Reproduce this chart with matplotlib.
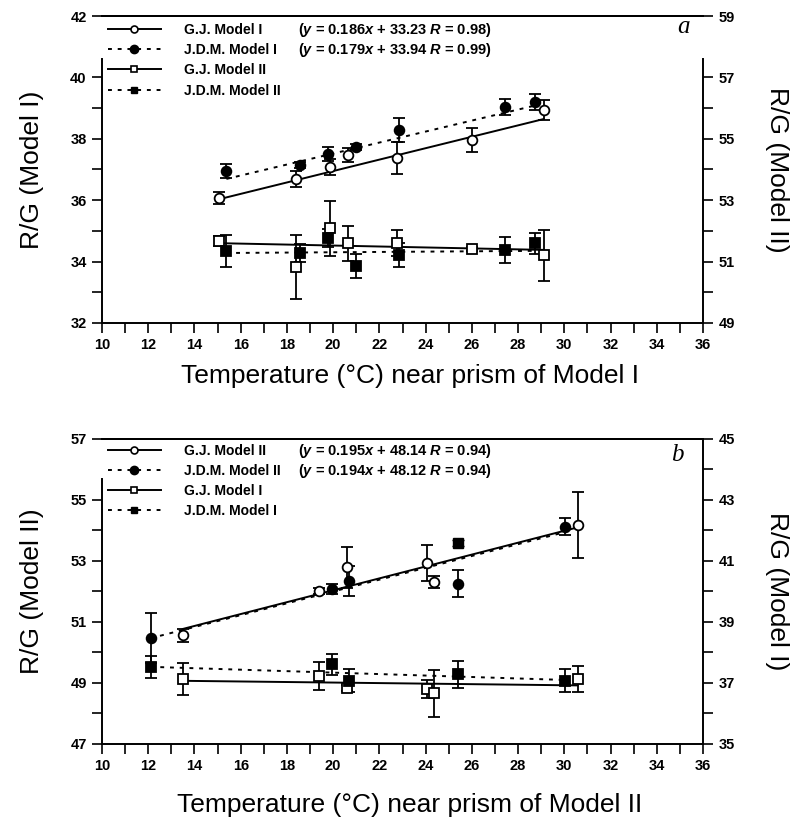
import numpy as np
import matplotlib
matplotlib.use('Agg')
import matplotlib.pyplot as plt
from matplotlib import font_manager
from matplotlib.lines import Line2D

# ---- data ----
# panel a: temperature near prism of Model I
a_gj_x = [15.06, 18.37, 19.88, 20.66, 22.76, 26.02, 29.1]
a_gj_m1 = [36.07, 36.69, 37.08, 37.47, 37.37, 37.96, 38.94]
a_gj_m1_err = [0.2, 0.27, 0.25, 0.23, 0.53, 0.4, 0.33]
a_gj_m2 = [51.67, 50.82, 52.09, 51.6, 51.6, 51.41, 51.21]
a_gj_m2_err = [0.15, 1.03, 0.9, 0.57, 0.43, 0.08, 0.83]

a_jdm_x = [15.38, 18.56, 19.78, 20.99, 22.85, 27.42, 28.71]
a_jdm_m1 = [36.95, 37.15, 37.5, 37.73, 38.28, 39.04, 39.2]
a_jdm_m1_err = [0.23, 0.1, 0.23, 0.1, 0.4, 0.27, 0.25]
a_jdm_m2 = [51.35, 51.28, 51.77, 50.86, 51.21, 51.38, 51.6]
a_jdm_m2_err = [0.52, 0.3, 0.3, 0.4, 0.38, 0.42, 0.34]

# fits (slope, intercept)
a_fit_gj_m1 = (0.186, 33.23)
a_fit_jdm_m1 = (0.179, 33.94)
a_fit_gj_m2 = (-0.0156, 51.835)
a_fit_jdm_m2 = (0.0052, 51.2)

# panel b: temperature near prism of Model II
b_gj_x = [13.49, 19.39, 20.6, 24.05, 24.36, 30.57]
b_gj_m2 = [50.56, 52.03, 52.79, 52.94, 52.32, 54.18]
b_gj_m2_err = [0.22, 0.1, 0.66, 0.6, 0.2, 1.07]
b_gj_m1 = [37.13, 37.24, 36.83, 36.8, 36.66, 37.12]
b_gj_m1_err = [0.51, 0.46, 0.1, 0.3, 0.78, 0.43]

b_jdm_x = [12.1, 19.96, 20.7, 25.38, 30.03]
b_jdm_m2 = [50.47, 52.07, 52.34, 52.26, 54.13]
b_jdm_m2_err = [0.82, 0.16, 0.49, 0.45, 0.29]
b_jdm_m1 = [37.53, 37.61, 37.07, 37.29, 37.07]
b_jdm_m1_err = [0.37, 0.34, 0.38, 0.44, 0.38]
b_jdm_m1_extra_x = [25.38]
b_jdm_m1_extra = [41.58]

b_fit_gj_m2 = (0.195, 48.14)
b_fit_jdm_m2 = (0.194, 48.12)
b_fit_gj_m1 = (-0.0088, 37.19)
b_fit_jdm_m1 = (-0.024, 37.82)

a_labels = ['G.J. Model I', 'J.D.M. Model I', 'G.J. Model II', 'J.D.M. Model II']
a_eqs = [r'($y$ = 0.186$x$ + 33.23 $R$ = 0.98)', r'($y$ = 0.179$x$ + 33.94 $R$ = 0.99)']
b_labels = ['G.J. Model II', 'J.D.M. Model II', 'G.J. Model I', 'J.D.M. Model I']
b_eqs = [r'($y$ = 0.195$x$ + 48.14 $R$ = 0.94)', r'($y$ = 0.194$x$ + 48.12 $R$ = 0.94)']

x_ticks = list(range(10, 37, 2))

# ---- fonts ----
names = {f.name for f in font_manager.fontManager.ttflist}
narrow = 'Liberation Sans Narrow' if 'Liberation Sans Narrow' in names else 'Liberation Sans'
plt.rcParams['font.family'] = 'Liberation Sans'
plt.rcParams['mathtext.fontset'] = 'custom'
plt.rcParams['mathtext.rm'] = narrow + ':bold'
plt.rcParams['mathtext.it'] = narrow + ':italic:bold'

DOT = (0, (2, 3))
LW = 1.4
LEG_SIZE = 10


def series(ax, x, y, err, fit, marker, filled, ls):
    x = np.array(x)
    xs = np.array([x.min(), x.max()])
    ax.plot(xs, fit[0] * xs + fit[1], color='black', lw=LW, ls=ls, zorder=2)
    ax.errorbar(x, y, yerr=err, fmt=marker, ms=7 if marker == 'o' else 6.5,
                mfc='black' if filled else 'white', mec='black', mew=1.3,
                ecolor='black', elinewidth=1.3, capsize=4, capthick=1.3, zorder=3)


def style(ax, ax2, ylim, ylim2, lbound, rbound):
    ax.set_xlim(10, 36)
    ax.set_ylim(*ylim)
    ax2.set_ylim(*ylim2)
    ax.set_xticks(x_ticks)
    ax.set_xticklabels([str(t) for t in x_ticks], fontweight='bold', fontsize=10.5)
    ax.set_xticks(range(11, 36, 2), minor=True)
    yt = list(range(ylim[0], ylim[1] + 1, 2))
    ax.set_yticks(yt)
    ax.set_yticklabels([str(t) for t in yt], fontweight='bold', fontsize=10.5)
    ax.set_yticks([v for v in range(ylim[0] + 1, ylim[1], 2) if v <= lbound[1]], minor=True)
    yt2 = list(range(ylim2[0], ylim2[1] + 1, 2))
    ax2.set_yticks(yt2)
    ax2.set_yticklabels([str(t) for t in yt2], fontweight='bold', fontsize=10.5)
    ax2.set_yticks([v for v in range(ylim2[0] + 1, ylim2[1], 2) if v <= rbound[1]], minor=True)
    for a in (ax, ax2):
        a.tick_params(which='both', direction='out', length=7, width=1.2, pad=4)
        for s in a.spines.values():
            s.set_linewidth(1.4)
    ax.spines['right'].set_visible(False)
    ax2.spines['left'].set_visible(False)
    ax2.spines['bottom'].set_visible(False)
    ax.spines['left'].set_bounds(*lbound)
    ax2.spines['right'].set_bounds(*rbound)


def legend(fig, ax, labels, eqs, top):
    handles = [
        Line2D([0], [0], color='black', lw=LW, marker='o', ms=5, mfc='white', mec='black', mew=1.2),
        Line2D([0], [0], color='black', lw=LW, ls=DOT, marker='o', ms=6, mfc='black', mec='black'),
        Line2D([0], [0], color='black', lw=LW, marker='s', ms=5, mfc='white', mec='black', mew=1.2),
        Line2D([0], [0], color='black', lw=LW, ls=DOT, marker='s', ms=5, mfc='black', mec='black'),
    ]
    leg = ax.legend(handles, labels, loc='upper left', bbox_to_anchor=(0.01, top),
                    frameon=False, borderpad=0, borderaxespad=0, handlelength=3.8,
                    handletextpad=1.7, labelspacing=0.45,
                    prop={'family': narrow, 'weight': 'bold', 'size': LEG_SIZE})
    fig.canvas.draw()
    inv = ax.transAxes.inverted()
    for t, eq in zip(leg.get_texts()[:2], eqs):
        bb = t.get_window_extent()
        yc = inv.transform((0, (bb.y0 + bb.y1) / 2))[1]
        ax.text(0.326, yc, eq, transform=ax.transAxes, va='center', ha='left',
                family=narrow, weight='bold', fontsize=LEG_SIZE + 0.5)


fig = plt.figure(figsize=(8.04, 8.25), dpi=100)
ax_a = fig.add_axes([0.1269, 0.6085, 0.7475, 0.3721])
ax_a2 = ax_a.twinx()
ax_b = fig.add_axes([0.1269, 0.0982, 0.7475, 0.3697])
ax_b2 = ax_b.twinx()

# panel a
series(ax_a, a_gj_x, a_gj_m1, a_gj_m1_err, a_fit_gj_m1, 'o', False, '-')
series(ax_a, a_jdm_x, a_jdm_m1, a_jdm_m1_err, a_fit_jdm_m1, 'o', True, DOT)
series(ax_a2, a_gj_x, a_gj_m2, a_gj_m2_err, a_fit_gj_m2, 's', False, '-')
series(ax_a2, a_jdm_x, a_jdm_m2, a_jdm_m2_err, a_fit_jdm_m2, 's', True, DOT)
style(ax_a, ax_a2, (32, 42), (49, 59), (32, 40.6), (49, 57.6))

# panel b
series(ax_b, b_gj_x, b_gj_m2, b_gj_m2_err, b_fit_gj_m2, 'o', False, '-')
series(ax_b, b_jdm_x, b_jdm_m2, b_jdm_m2_err, b_fit_jdm_m2, 'o', True, DOT)
series(ax_b2, b_gj_x, b_gj_m1, b_gj_m1_err, b_fit_gj_m1, 's', False, '-')
series(ax_b2, b_jdm_x, b_jdm_m1, b_jdm_m1_err, b_fit_jdm_m1, 's', True, DOT)
ax_b2.errorbar(b_jdm_m1_extra_x, b_jdm_m1_extra, yerr=0.1, fmt='s', ms=6.5, mfc='black',
               mec='black', ecolor='black', elinewidth=1.3, capsize=4, zorder=3)
style(ax_b, ax_b2, (47, 57), (35, 45), (47, 55.7), (35, 45))

# labels
lab = dict(family=narrow, fontsize=19)
fig.text(32 / 804, 1 - 170 / 825, 'R/G (Model I)', rotation=90, ha='center', va='center', **lab)
fig.text(777 / 804, 1 - 170 / 825, 'R/G (Model II)', rotation=270, ha='center', va='center', **lab)
fig.text(410 / 804, 1 - 376 / 825, 'Temperature (°C) near prism of Model I', ha='center', va='center', **lab)
fig.text(32 / 804, 1 - 591 / 825, 'R/G (Model II)', rotation=90, ha='center', va='center', **lab)
fig.text(777 / 804, 1 - 591 / 825, 'R/G (Model I)', rotation=270, ha='center', va='center', **lab)
fig.text(410 / 804, 1 - 805 / 825, 'Temperature (°C) near prism of Model II', ha='center', va='center', **lab)

ax_a2.text(0.978, 0.964, 'a', transform=ax_a2.transAxes, ha='right', va='center',
           family='Liberation Serif', style='italic', fontsize=18)
ax_b2.text(0.967, 0.948, 'b', transform=ax_b2.transAxes, ha='right', va='center',
           family='Liberation Serif', style='italic', fontsize=18)

legend(fig, ax_a2, a_labels, a_eqs, 0.978)
legend(fig, ax_b2, b_labels, b_eqs, 0.985)

fig.savefig('out.png', dpi=100)
